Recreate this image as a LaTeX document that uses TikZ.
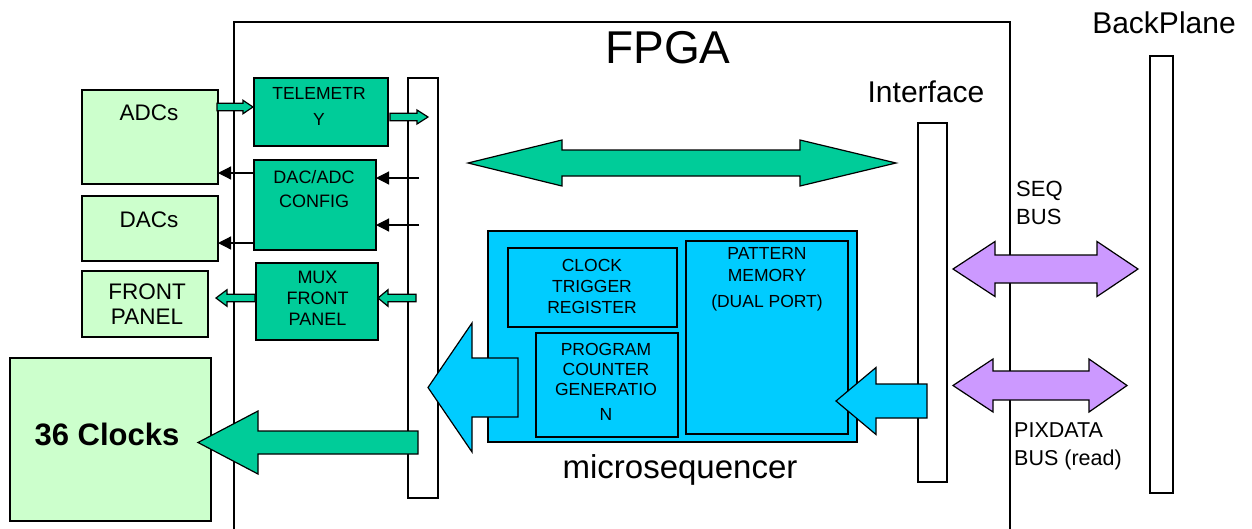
\documentclass[tikz,border=0pt]{standalone}
\usepackage{fontspec}
\setmainfont{Liberation Sans}
\usetikzlibrary{arrows.meta}
\definecolor{grn}{HTML}{00CC99}
\definecolor{lgrn}{HTML}{CCFFCC}
\definecolor{cyn}{HTML}{00CCFF}
\definecolor{prp}{HTML}{CC99FF}
\newcommand{\fsz}[2]{\fontsize{#1}{#2}\selectfont}
% style, x-tail, x-headbase, x-tip, y, shaft half, head half
\newcommand{\harrow}[7]{%
  \draw[#1] ({#2},{#5-#6}) -- ({#3},{#5-#6}) -- ({#3},{#5-#7}) -- ({#4},{#5})
    -- ({#3},{#5+#7}) -- ({#3},{#5+#6}) -- ({#2},{#5+#6}) -- cycle;}
% style, tipL, baseL, baseR, tipR, y, shaft half, head half
\newcommand{\dharrow}[8]{%
  \draw[#1] ({#2},{#6}) -- ({#3},{#6-#8}) -- ({#3},{#6-#7}) -- ({#4},{#6-#7})
    -- ({#4},{#6-#8}) -- ({#5},{#6}) -- ({#4},{#6+#8}) -- ({#4},{#6+#7})
    -- ({#3},{#6+#7}) -- ({#3},{#6+#8}) -- cycle;}
% style, x1, y1, x2, y2, name
\newcommand{\boxat}[6]{%
  \node[#1, anchor=north west, inner sep=0pt, outer sep=0pt,
    minimum width={#4-#2}, minimum height={#5-#3}] (#6) at (#2,#3) {};}
\tikzset{
  ln/.style={draw=black, line width=1.2pt, line join=miter},
  lightbox/.style={rectangle, ln, fill=lgrn},
  greenbox/.style={rectangle, ln, fill=grn},
  cyanbox/.style={rectangle, ln, fill=cyn},
  barbox/.style={rectangle, ln, fill=white},
  greenarrow/.style={ln, fill=grn},
  cyanarrow/.style={ln, fill=cyn},
  purplearrow/.style={ln, fill=prp},
  thinarr/.style={draw=black, line width=1.2pt, -{Triangle[length=13pt,width=13pt]}},
  txt/.style={inner sep=0pt, align=center, text=black},
}
\begin{document}
\begin{tikzpicture}[x=1pt, y=-1pt]
\useasboundingbox (0,0) rectangle (1252,528);
\fill[white] (0,0) rectangle (1252,528);
\clip (0,0) rectangle (1252,528);

% FPGA outline
\draw[ln] (234,22) rectangle (1010,560);

% external boxes
\boxat{lightbox}{82}{90}{218}{184}{adcs}
\boxat{lightbox}{82}{196}{218}{261}{dacs}
\boxat{lightbox}{82}{271}{208}{337}{fp}
\boxat{lightbox}{10}{358}{211}{521}{clk}

% internal green boxes
\boxat{greenbox}{254}{78}{388}{146}{tele}
\boxat{greenbox}{254}{160}{376}{250}{cfg}
\boxat{greenbox}{256}{263}{378}{340}{mux}

% bus bars
\boxat{barbox}{408}{78}{438}{498}{lbus}
\boxat{barbox}{918}{123}{947}{482}{ibus}
\boxat{barbox}{1150}{56}{1173}{493}{bp}

% microsequencer
\boxat{cyanbox}{488}{231}{857}{442}{useq}
\boxat{cyanbox}{508}{248}{677}{327}{ctr}
\boxat{cyanbox}{536}{333}{678}{437}{pcg}
\boxat{cyanbox}{686}{241}{848}{434}{pm}

% block arrows
\harrow{greenarrow}{217}{243}{253}{107}{3.7}{6.7}
\harrow{greenarrow}{390}{417}{428}{117}{3.7}{7}
\harrow{greenarrow}{255}{227}{216}{298}{3.8}{8.3}
\harrow{greenarrow}{416}{388}{378}{298}{3.8}{8.3}
\harrow{greenarrow}{418}{258}{198}{442.5}{11.5}{31.5}
\harrow{cyanarrow}{518}{472}{428}{387.5}{29.5}{64.5}
\harrow{cyanarrow}{927}{876}{836}{401}{17}{33.5}
\dharrow{greenarrow}{468}{562}{800}{896}{163}{13}{23}
\dharrow{purplearrow}{953}{995}{1097}{1138}{269}{14}{27.5}
\dharrow{purplearrow}{953}{993}{1089}{1127}{385.5}{14.5}{26.5}

% thin arrows
\draw[thinarr] (cfg.west |- 0,173) -- (adcs.east |- 0,173);
\draw[thinarr] (cfg.west |- 0,243) -- (dacs.east |- 0,243);
\draw[thinarr] (419,178) -- (cfg.east |- 0,178);
\draw[thinarr] (419,225) -- (cfg.east |- 0,225);

% texts
\node[txt, font=\fsz{46}{50}] (tfpga) at (668,48) {FPGA};
\node[txt, font=\fsz{30}{32}] (tif) at (926,92) {Interface};
\node[txt, font=\fsz{30}{32}] (tbp) at (1164,23) {BackPlane};
\node[txt, align=left, anchor=west, font=\fsz{22}{28}] (tseq) at (1016,203) {SEQ\\BUS};
\node[txt, align=left, anchor=west, font=\fsz{21.5}{28}] (tpix) at (1014,446) {PIXDATA\\BUS (read)};
\node[txt, font=\fsz{22.5}{25}] (tadcs) at (149,113) {ADCs};
\node[txt, font=\fsz{22.5}{25}] (tdacs) at (149,220) {DACs};
\node[txt, font=\fsz{22.5}{25}] (tfp) at (147,304.5) {FRONT\\PANEL};
\node[txt, font=\fsz{17.5}{26}] (ttele) at (319,106) {TELEMETR\\Y};
\node[txt, font=\fsz{18}{24}] (tcfg) at (314,189) {DAC/ADC\\CONFIG};
\node[txt, font=\fsz{18}{21}] (tmux) at (317.5,298) {MUX\\FRONT\\PANEL};
\node[txt, font=\bfseries\fsz{31}{34}] (tclk) at (107,434) {36 Clocks};
\node[txt, font=\fsz{17.5}{21}] (tctr) at (592,286) {CLOCK\\TRIGGER\\REGISTER};
\node[txt, font=\fsz{17.5}{20}] (tpcg) at (606,381.5) {PROGRAM\\COUNTER\\GENERATIO\\[5pt]N};
\node[txt, font=\fsz{17.5}{22}] (tpm) at (767,279) {PATTERN\\MEMORY\\[4pt](DUAL PORT)};
\node[txt, font=\fsz{33}{36}] (tuseq) at (680,470) {microsequencer};
\end{tikzpicture}
\end{document}
